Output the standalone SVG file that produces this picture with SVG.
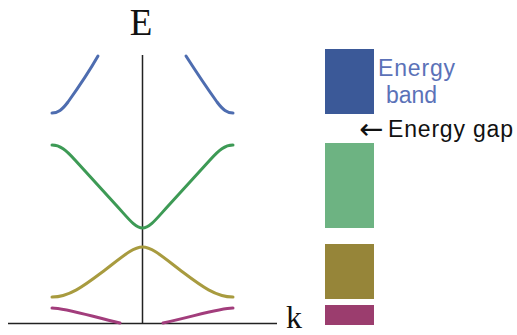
<svg xmlns="http://www.w3.org/2000/svg" width="517" height="335" viewBox="0 0 517 335">
<style>
.axis{stroke:#222;stroke-width:1.5;fill:none}
.curve{fill:none;stroke-width:3;stroke-linecap:round}
.serif{font-family:"Liberation Serif","Times New Roman",serif;fill:#111}
.sans{font-family:"Liberation Sans",Arial,sans-serif}
</style>
<rect width="517" height="335" fill="#fff"/>
<g id="axes">
<line class="axis" x1="142.5" y1="55" x2="142.5" y2="324"/>
<line class="axis" x1="8" y1="323.5" x2="277" y2="323.5"/>
<text class="serif" x="141" y="35" font-size="37" text-anchor="middle">E</text>
<text class="serif" x="286" y="327.5" font-size="32">k</text>
</g>
<g id="band-blue">
<path class="curve" stroke="#4e6db0" d="M52,113 C58,113 62,110 68,102 C78,88 90,70 98,56"/>
<path class="curve" stroke="#4e6db0" d="M233,113 C227,113 223,110 217,102 C207,88 195,70 186,56"/>
</g>
<g id="band-green">
<path class="curve" stroke="#3d9a55" d="M52,145 C60,145 66,150 75,160 L116,205 C128,218 135,228 142.5,228 C150,228 157,218 169,205 L210,160 C219,150 225,145 233,145"/>
</g>
<g id="band-olive">
<path class="curve" stroke="#a89b3f" d="M52,297 C70,297 85,285 105,270 C122,257 133,247 142.5,247 C152,247 163,257 180,270 C200,285 215,297 233,297"/>
</g>
<g id="band-magenta">
<path class="curve" stroke="#a23d7c" d="M52,308 C65,308 90,316 120,323"/>
<path class="curve" stroke="#a23d7c" d="M163,323 C195,316 220,308 233,308"/>
</g>
<g id="bars">
<rect x="325" y="49" width="49" height="65" fill="#3b5998"/>
<rect x="325" y="143" width="49" height="85" fill="#6db382"/>
<rect x="325" y="244" width="49" height="55" fill="#968539"/>
<rect x="325" y="305" width="49" height="20" fill="#9b3d6e"/>
</g>
<g id="labels">
<text class="sans" x="378" y="76" font-size="23" fill="#5b72b8" textLength="77">Energy</text>
<text class="sans" x="386" y="103" font-size="23" fill="#5b72b8">band</text>
<text class="sans" y="137" font-size="23" fill="#111"><tspan x="359" y="139" font-family="DejaVu Sans,sans-serif" font-size="29">←</tspan><tspan x="388" y="137" textLength="125">Energy gap</tspan></text>
</g>
</svg>
